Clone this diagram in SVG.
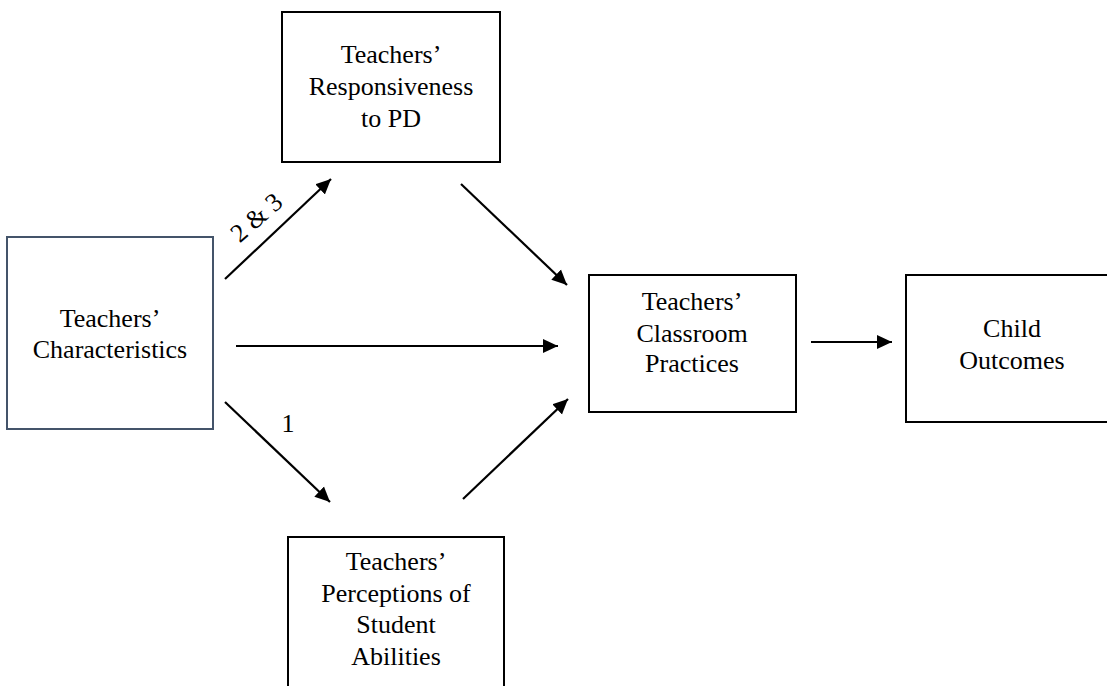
<svg xmlns="http://www.w3.org/2000/svg" width="1107" height="686" viewBox="0 0 1107 686">
<style>
  .box { fill: #ffffff; stroke: #000000; stroke-width: 2; }
  .box1 { fill: #ffffff; stroke: #44546a; stroke-width: 2; }
  .lbl { font-family: "Liberation Serif", "Times New Roman", serif; font-size: 26px; fill: #000000; text-anchor: middle; }
  .conn { stroke: #000000; stroke-width: 2.2; fill: none; marker-end: url(#arrow); }
</style>
<defs>
  <marker id="arrow" markerUnits="userSpaceOnUse" markerWidth="16" markerHeight="16" viewBox="0 0 16 16" refX="15" refY="8" orient="auto">
    <path d="M0,1 L15,8 L0,15 Z" fill="#000000"/>
  </marker>
</defs>
<rect x="0" y="0" width="1107" height="686" fill="#ffffff"/>

<g id="connectors">
  <line class="conn" x1="225" y1="279" x2="331" y2="179"/>
  <line class="conn" x1="225" y1="402" x2="330" y2="502"/>
  <line class="conn" x1="236" y1="346" x2="558" y2="346"/>
  <line class="conn" x1="461" y1="184" x2="567" y2="285"/>
  <line class="conn" x1="463" y1="499" x2="568" y2="399"/>
  <line class="conn" x1="811" y1="342" x2="892" y2="342"/>
  <text class="lbl" transform="translate(262,224) rotate(-41)">2 &amp; 3</text>
  <text class="lbl" x="288" y="432">1</text>
</g>

<g id="node-characteristics">
  <rect class="box1" x="7" y="237" width="206" height="192"/>
  <text class="lbl" x="110" y="327">Teachers’</text>
  <text class="lbl" x="110" y="358">Characteristics</text>
</g>

<g id="node-responsiveness">
  <rect class="box" x="282" y="12" width="218" height="150"/>
  <text class="lbl" x="391" y="63">Teachers’</text>
  <text class="lbl" x="391" y="95">Responsiveness</text>
  <text class="lbl" x="391" y="127">to PD</text>
</g>

<g id="node-practices">
  <rect class="box" x="589" y="275" width="207" height="137"/>
  <text class="lbl" x="692" y="310">Teachers’</text>
  <text class="lbl" x="692" y="342">Classroom</text>
  <text class="lbl" x="692" y="372">Practices</text>
</g>

<g id="node-outcomes">
  <rect class="box" x="906" y="275" width="210" height="147"/>
  <text class="lbl" x="1012" y="337">Child</text>
  <text class="lbl" x="1012" y="369">Outcomes</text>
</g>

<g id="node-perceptions">
  <rect class="box" x="288" y="537" width="216" height="170"/>
  <text class="lbl" x="396" y="570">Teachers’</text>
  <text class="lbl" x="396" y="602">Perceptions of</text>
  <text class="lbl" x="396" y="633">Student</text>
  <text class="lbl" x="396" y="665">Abilities</text>
</g>
</svg>
